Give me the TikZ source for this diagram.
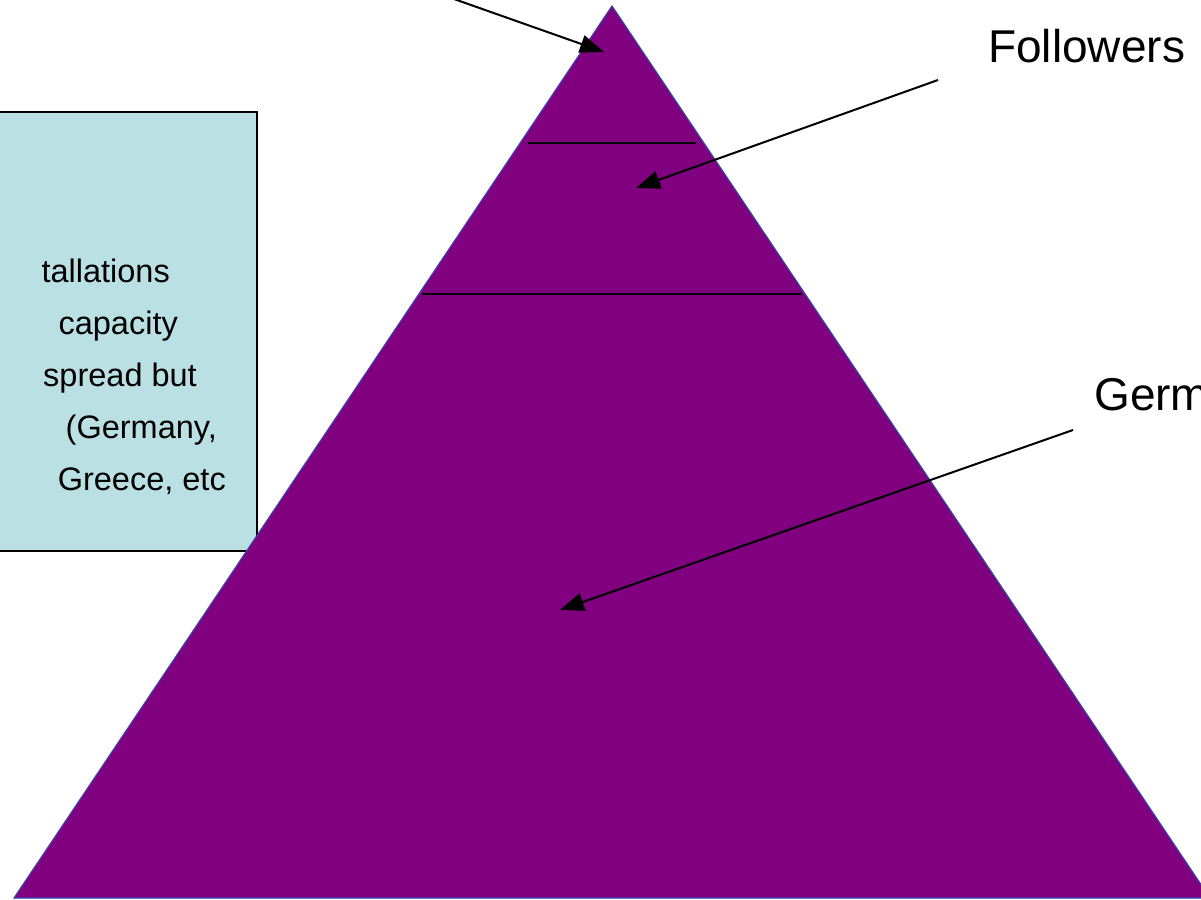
\documentclass[tikz,border=0pt]{standalone}
\usepackage{fontspec}
\setmainfont{Liberation Sans}
\usetikzlibrary{arrows.meta}
\definecolor{pyr}{HTML}{800080}
\definecolor{pyredge}{HTML}{3A40A8}
\definecolor{boxfill}{HTML}{BBE0E3}
\tikzset{
  pointer/.style={draw=black, line width=2pt, -{Triangle[length=24pt,width=18pt]}},
  bigtext/.style={font=\fontsize{46}{55}\selectfont, inner sep=0pt, anchor=base west},
  boxtext/.style={font=\fontsize{32.5}{40}\selectfont, inner sep=0pt, anchor=base east},
  divider/.style={draw=black, line width=2pt},
}
\begin{document}
\begin{tikzpicture}[x=1pt,y=-1pt]
\useasboundingbox (0,0) rectangle (1201,899);
\clip (0,0) rectangle (1201,899);
% info box
\path[fill=boxfill, draw=black, line width=1.4pt] (-20,112) rectangle (257,551);
\node[boxtext] (t1) at (170,282) {tallations};
\node[boxtext] (t2) at (178,334) {capacity};
\node[boxtext] (t3) at (197,386) {spread but};
\node[boxtext] (t4) at (217,438) {(Germany,};
\node[boxtext] (t5) at (226,490) {Greece, etc};
% pyramid
\path[fill=pyr, draw=pyredge, line width=1.2pt] (612,6) -- (1210,898) -- (14,898) -- cycle;
\coordinate (l1a) at (528,143); \coordinate (l1b) at (696,143);
\coordinate (l2a) at (422,294); \coordinate (l2b) at (802,294);
\draw[divider] (l1a) -- (l1b);
\draw[divider] (l2a) -- (l2b);
% labels
\node[bigtext] (fol) at (988,63) {Followers};
\node[bigtext] (ger) at (1094,410) {Germ};
% arrows
\coordinate (a1s) at (420,-13); \coordinate (a1e) at (604,52);
\coordinate (a2s) at (938,80);  \coordinate (a2e) at (636,188);
\coordinate (a3s) at (1073,430); \coordinate (a3e) at (560,610);
\draw[pointer] (a1s) -- (a1e);
\draw[pointer] (a2s) -- (a2e);
\draw[pointer] (a3s) -- (a3e);
\end{tikzpicture}
\end{document}
